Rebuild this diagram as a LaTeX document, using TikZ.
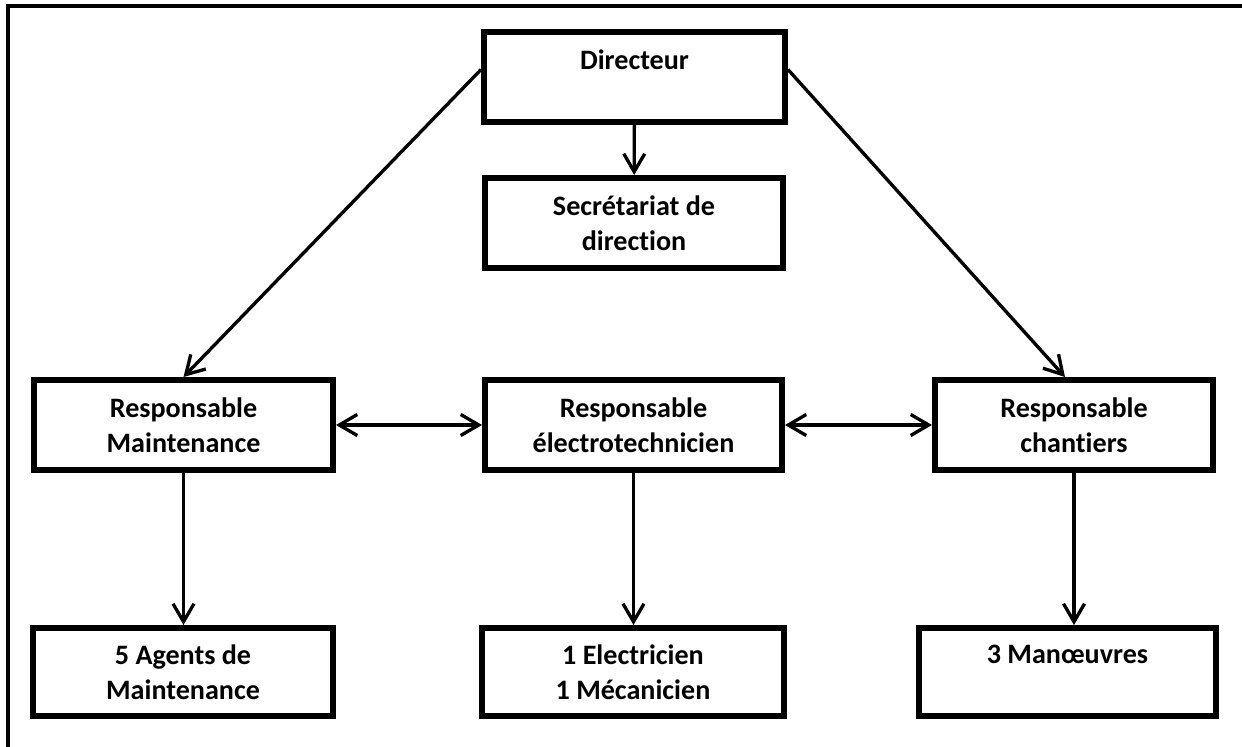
\documentclass[tikz,border=0pt]{standalone}
\usepackage{fontspec}
\setmainfont{Carlito}[Ligatures=NoCommon]
\usetikzlibrary{arrows.meta, calc}

\begin{document}
\begin{tikzpicture}[x=0.02cm, y=-0.02cm,
  poste/.style={draw=black, line width=3.4pt, rectangle, inner sep=0pt, align=center,
    font=\fontsize{16}{20}\selectfont\bfseries, minimum height=1.8cm},
  fleche/.style={line width=1.9pt, -{Straight Barb[length=0.36cm, width=0.42cm]}},
  double fleche/.style={line width=1.9pt, {Straight Barb[length=0.36cm, width=0.42cm]}-{Straight Barb[length=0.36cm, width=0.42cm]}}]
\useasboundingbox (0,0) rectangle (1242,747);

% cadre
\draw [line width=1.8pt] (8,747) -- (8,6) -- (1242,6);

% direction
\node [poste, minimum width=6.02cm] (dir) at (634.5,77) {Directeur\\ \mbox{}};
\node [poste, minimum width=5.96cm] (sec) at (634,223) {Secrétariat de\\direction};

% responsables
\node [poste, minimum width=5.98cm] (maint) at (183.5,425) {Responsable\\Maintenance};
\node [poste, minimum width=5.94cm] (elec)  at (633.5,425) {Responsable\\électrotechnicien};
\node [poste, minimum width=5.56cm] (chant) at (1074,425)  {Responsable\\chantiers};

% equipes
\node [poste, minimum width=6.00cm, minimum height=1.76cm] (agents) at (183,672)    {5 Agents de\\Maintenance};
\node [poste, minimum width=6.04cm, minimum height=1.76cm] (meca)   at (633,672)    {1 Electricien\\1 Mécanicien};
\node [poste, minimum width=5.94cm, minimum height=1.76cm] (manoe)  at (1067.5,672) {3 Manœuvres\\ \mbox{}};

\draw [fleche] (dir) -- (sec);
\draw [fleche] ([yshift=0.15cm]dir.west) -- (maint.north);
\draw [fleche] ([yshift=0.15cm]dir.east) -- ([xshift=-0.18cm]chant.north);

\draw [double fleche] (maint) -- (elec);
\draw [double fleche] (elec) -- (chant);

\draw [fleche] (maint.south) -- (maint.south |- agents.north);
\draw [fleche] (elec.south)  -- (elec.south |- meca.north);
\draw [fleche] (chant.south) -- (chant.south |- manoe.north);
\end{tikzpicture}
\end{document}
